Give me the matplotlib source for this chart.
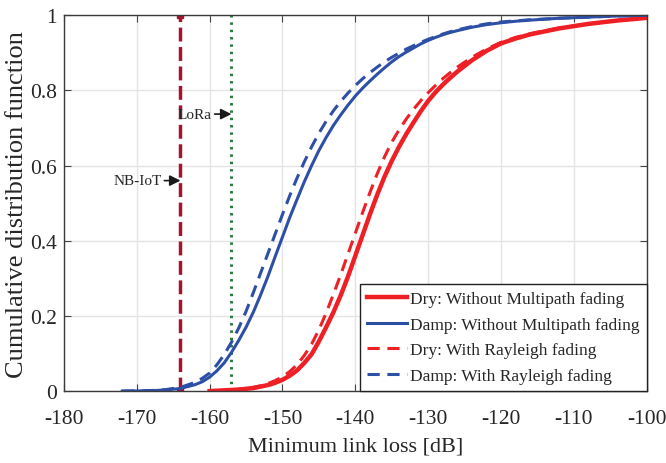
import numpy as np
import matplotlib.pyplot as plt

plt.rcParams['font.family'] = ['Liberation Serif', 'DejaVu Serif']
plt.rcParams['axes.unicode_minus'] = False

# minimum link loss [dB] where the curves were read
loss = [-172, -170, -168, -166, -164, -162,
        -161, -160, -159, -158, -157, -156, -155, -154, -153, -152, -151, -150,
        -149, -148, -147, -146, -145, -144, -143, -142, -141, -140, -139, -138,
        -137, -136, -135, -134, -133, -132, -131, -130, -129, -128, -127, -126,
        -124, -122, -120, -118, -116, -112, -108, -104, -100]

# CDF values
damp_nofade = [0.0, 0.0004, 0.001, 0.003, 0.007, 0.017,
               0.025, 0.037, 0.054, 0.075, 0.103, 0.135, 0.17, 0.21, 0.256, 0.305,
               0.358, 0.41, 0.462, 0.51, 0.557, 0.6, 0.64, 0.675, 0.707, 0.735,
               0.761, 0.785, 0.806, 0.825, 0.843, 0.86, 0.876, 0.89, 0.902, 0.913,
               0.924, 0.933, 0.941, 0.948, 0.954, 0.959,
               0.968, 0.975, 0.98, 0.984, 0.987, 0.992, 0.995, 0.998, 1.0]
damp_fade = [0.0, 0.0006, 0.0015, 0.004, 0.01, 0.023,
             0.034, 0.048, 0.07, 0.097, 0.13, 0.168, 0.212, 0.262, 0.314, 0.366,
             0.418, 0.47, 0.52, 0.567, 0.61, 0.65, 0.686, 0.718, 0.746, 0.771,
             0.793, 0.813, 0.831, 0.847, 0.862, 0.876, 0.888, 0.899, 0.91, 0.919,
             0.928, 0.936, 0.943, 0.95, 0.956, 0.961,
             0.97, 0.977, 0.982, 0.985, 0.988, 0.992, 0.995, 0.998, 1.0]

# dry curves start at -160 dB
loss_dry = loss[7:]
dry_nofade = [0.0, 0.001, 0.002, 0.003, 0.004, 0.006, 0.008, 0.012, 0.016, 0.022,
              0.03, 0.041, 0.055, 0.075, 0.098, 0.132, 0.17, 0.21, 0.255, 0.305,
              0.36, 0.415, 0.47, 0.522, 0.57, 0.612, 0.65, 0.684, 0.715, 0.745,
              0.772, 0.795, 0.815, 0.833, 0.85,
              0.88, 0.905, 0.925, 0.938, 0.949, 0.965, 0.977, 0.986, 0.993]
dry_fade = [0.0, 0.001, 0.002, 0.003, 0.005, 0.007, 0.01, 0.014, 0.02, 0.028,
            0.038, 0.052, 0.07, 0.095, 0.125, 0.163, 0.208, 0.258, 0.31, 0.365,
            0.42, 0.475, 0.528, 0.578, 0.623, 0.662, 0.695, 0.724, 0.75, 0.773,
            0.794, 0.813, 0.831, 0.847, 0.862,
            0.888, 0.91, 0.928, 0.941, 0.951, 0.966, 0.977, 0.986, 0.993]

# technology sensitivity thresholds
nbiot_thr = -164
lora_thr = -157

red = '#ee1f25'
blue = '#2e4fa6'
txt = '#262626'

fig = plt.figure(figsize=(6.66, 4.64), dpi=100)
ax = fig.add_axes([0.096, 0.155, 0.875, 0.81])

ax.plot([nbiot_thr, nbiot_thr], [0, 1], color='#a2142f', lw=2.5, ls=(0, (4, 1.6)),
        marker='s', markersize=4)
ax.plot([lora_thr, lora_thr], [0, 1], color='#2f7a45', lw=2.2, ls=(0, (0.8, 1.6)))

ax.plot(loss_dry, dry_nofade, color=red, lw=3.2, label='Dry: Without Multipath fading')
ax.plot(loss, damp_nofade, color=blue, lw=2.2, label='Damp: Without Multipath fading')
ax.plot(loss_dry, dry_fade, color=red, lw=2.2, ls=(0, (4, 2.5)), label='Dry: With Rayleigh fading')
ax.plot(loss, damp_fade, color=blue, lw=2.2, ls=(0, (4, 2.5)), label='Damp: With Rayleigh fading')

arrow = dict(arrowstyle='-|>', color='#1a1a1a', lw=1.2, mutation_scale=16,
             shrinkA=0, shrinkB=0)
ax.annotate('NB-IoT', xy=(nbiot_thr, 0.56), xytext=(-166.6, 0.56),
            fontsize=11, ha='right', va='center', color=txt, arrowprops=arrow)
ax.annotate('LoRa', xy=(lora_thr, 0.737), xytext=(-159.7, 0.737),
            fontsize=11, ha='right', va='center', color=txt, arrowprops=arrow)

ax.set_xlim(-180, -100)
ax.set_ylim(0, 1)
ax.set_xticks(np.arange(-180, -99, 10))
ax.set_yticks([0, 0.2, 0.4, 0.6, 0.8, 1])
ax.set_yticklabels(['0', '0.2', '0.4', '0.6', '0.8', '1'])
ax.tick_params(direction='in', top=True, right=True, labelsize=15.5, length=5,
               color='#444444', labelcolor=txt)
ax.tick_params(axis='x', pad=13)
ax.tick_params(axis='y', pad=5)
ax.grid(True, color='#e4e4e4', lw=1)
ax.set_axisbelow(True)
for s in ax.spines.values():
    s.set_color('#3a3a3a')
    s.set_linewidth(1)

ax.set_xlabel('Minimum link loss [dB]', fontsize=16, color=txt, labelpad=6)
ax.set_ylabel('Cumulative distribution function', fontsize=19, color=txt)
ax.yaxis.set_label_coords(-0.062, 0.5)

leg = ax.legend(loc='lower right', fontsize=12.5, borderaxespad=0, fancybox=False,
                framealpha=1, edgecolor='#222222', handlelength=2.3, handletextpad=0.2,
                labelspacing=0.55, borderpad=0.4)
leg.get_frame().set_linewidth(1)
for t in leg.get_texts():
    t.set_color(txt)

fig.savefig('out.png', dpi=100)
